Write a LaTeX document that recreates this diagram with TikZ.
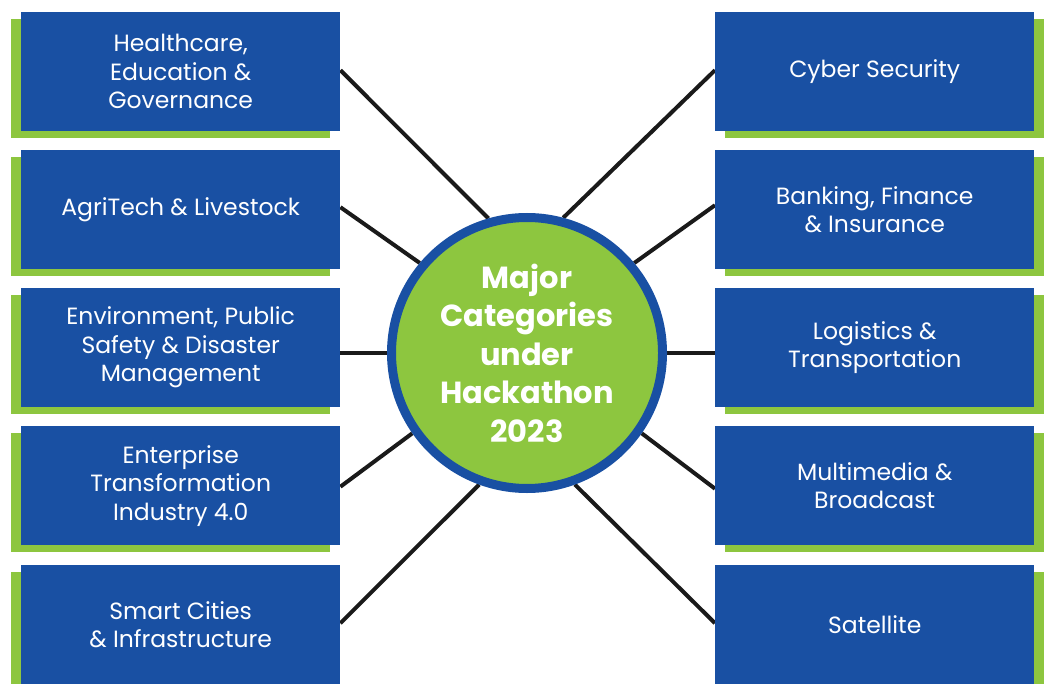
\documentclass[tikz,border=0pt]{standalone}
\usepackage{fontspec}
\setmainfont{Poppins}
\usetikzlibrary{shadows}
\pgfdeclarelayer{bg}
\pgfsetlayers{bg,main}
\definecolor{boxblue}{RGB}{25,80,163}
\definecolor{leafgreen}{RGB}{141,198,63}
\definecolor{linegray}{RGB}{26,26,26}
\begin{document}
\begin{tikzpicture}[x=1pt,y=-1pt,
  box/.style={fill=boxblue, text=white, minimum width=319pt, minimum height=119pt,
    inner sep=0pt, anchor=north west, align=center,
    font=\fontsize{23.5}{28.5}\selectfont},
  lbox/.style={box, drop shadow={shadow xshift=-10pt, shadow yshift=-7pt, fill=leafgreen, opacity=1}},
  rbox/.style={box, drop shadow={shadow xshift=10pt, shadow yshift=-7pt, fill=leafgreen, opacity=1}},
  hub/.style={circle, fill=leafgreen, draw=boxblue, line width=9pt, minimum size=271pt,
    inner sep=0pt, align=center, text=white, font=\fontsize{30.5}{38.5}\selectfont\bfseries},
  link/.style={draw=linegray, line width=4pt}]
\useasboundingbox (0,0) rectangle (1048,684);
% nodes
\node[lbox] (L1) at (21,12)  {Healthcare,\\Education \&\\Governance};
\node[lbox] (L2) at (21,150) {AgriTech \& Livestock};
\node[lbox] (L3) at (21,288) {Environment, Public\\Safety \& Disaster\\Management};
\node[lbox] (L4) at (21,426) {Enterprise\\Transformation\\Industry 4.0};
\node[lbox] (L5) at (21,565) {Smart Cities\\\& Infrastructure};
\node[rbox] (R1) at (715,12)  {Cyber Security};
\node[rbox] (R2) at (715,150) {Banking, Finance\\\& Insurance};
\node[rbox] (R3) at (715,288) {Logistics \&\\Transportation};
\node[rbox] (R4) at (715,426) {Multimedia \&\\Broadcast};
\node[rbox] (R5) at (715,565) {Satellite};
\node[hub] (C) at (527,353) {Major\\Categories\\under\\Hackathon\\2023};
% connectors, behind boxes and hub
\begin{pgfonlayer}{bg}
\draw[link] ([yshift=1.5pt]L1.east) -- (C.106);
\draw[link] ([yshift=2.5pt]L2.east) -- (C.140);
\draw[link] (L3.east |- C.west) -- (C.west);
\draw[link] ([yshift=-1pt]L4.east) -- (C.215.5);
\draw[link] ([yshift=1.5pt]R1.west) -- (C.75);
\draw[link] ([yshift=4.5pt]R2.west) -- (C.40.6);
\draw[link] (R3.west |- C.east) -- (C.east);
\draw[link] ([yshift=-3pt]R4.west) -- (C.-35.3);
\draw[link] ([yshift=1.5pt]L5.east) -- (C.250.4);
\draw[link] ([yshift=1.5pt]R5.west) -- (C.-70);
\end{pgfonlayer}
\end{tikzpicture}
\end{document}
